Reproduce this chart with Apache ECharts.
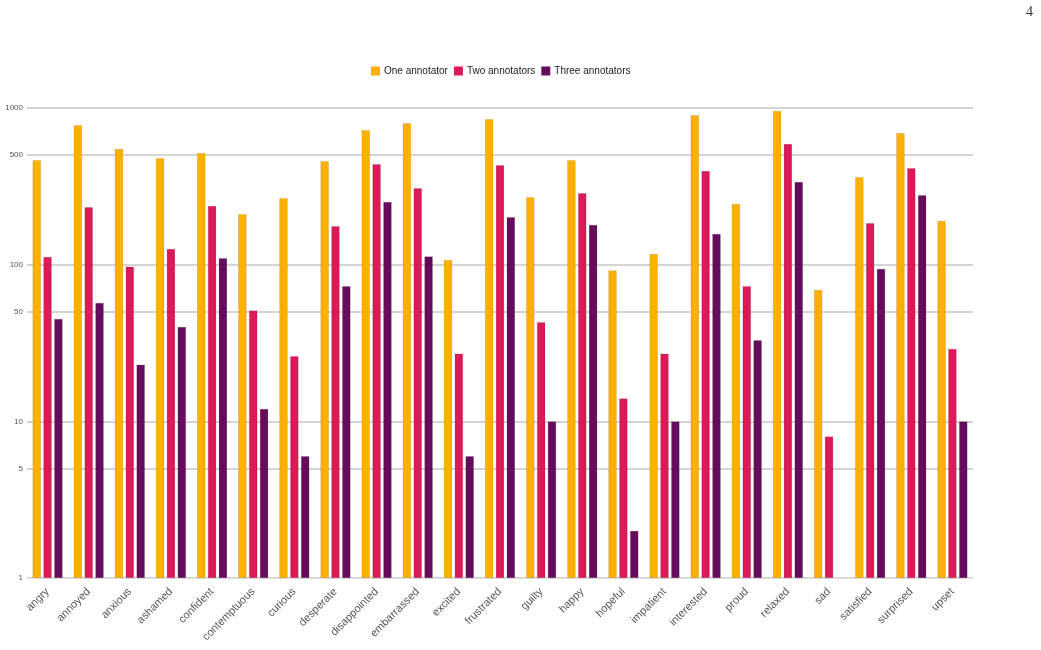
<!DOCTYPE html>
<html>
<head>
<meta charset="utf-8">
<script src="https://cdn.jsdelivr.net/npm/echarts@6/dist/echarts.min.js"></script>
<style>
  html, body { margin: 0; padding: 0; background: #fff; }
  #chart { width: 1041px; height: 650px; }
</style>
</head>
<body>
<div id="chart"></div>
<script>
var emotions = ["angry", "annoyed", "anxious", "ashamed", "confident", "contemptuous",
  "curious", "desperate", "disappointed", "embarrassed", "excited", "frustrated",
  "guilty", "happy", "hopeful", "impatient", "interested", "proud", "relaxed",
  "sad", "satisfied", "surprised", "upset"];
var oneAnnotator = [465, 778, 547, 479, 515, 210, 266, 458, 722, 801, 107, 849,
  270, 465, 92, 117, 901, 244, 956, 69, 362, 691, 190];
var twoAnnotators = [112, 233, 97, 126, 237, 51, 26, 176, 438, 308, 27, 432,
  43, 286, 14, 27, 396, 73, 589, 8, 184, 413, 29];
var threeAnnotators = [45, 57, 23, 40, 110, 12, 6, 73, 251, 113, 6, 201,
  10, 179, 2, 10, 157, 33, 337, null, 94, 278, 10];
var yTicks = [1, 5, 10, 50, 100, 500, 1000];

var chart = echarts.init(document.getElementById("chart"));
var font = "Liberation Sans";

function barSeries(name, data, color) {
  return {
    name: name,
    type: "bar",
    data: data,
    barGap: "30%",
    barCategoryGap: "27%",
    itemStyle: {
      color: color,
      borderColor: "rgba(0,0,0,0.18)",
      borderWidth: 0.6
    }
  };
}

var option = {
  animation: false,
  textStyle: { fontFamily: font },
  legend: {
    top: 61,
    left: 366,
    itemWidth: 9,
    itemHeight: 9,
    itemGap: 6,
    icon: "rect",
    itemStyle: { borderWidth: 0 },
    textStyle: { fontSize: 10, color: "#222", fontFamily: font, padding: [0, 0, 0, -1] }
  },
  grid: { left: 27, right: 68, top: 108, bottom: 72 },
  xAxis: {
    type: "category",
    data: emotions,
    axisLine: { lineStyle: { color: "#ddd", width: 1 } },
    axisTick: { show: false },
    axisLabel: { rotate: 45, fontSize: 11, color: "#555", margin: 12, interval: 0 }
  },
  yAxis: {
    type: "log",
    logBase: 10,
    min: 1,
    max: 1000,
    axisLine: { show: false },
    axisTick: { show: false, customValues: yTicks },
    axisLabel: {
      fontSize: 8, color: "#555", margin: 4, customValues: yTicks,
      formatter: function (v) { return String(Math.round(v)); }
    },
    splitLine: { show: true, lineStyle: { color: "#c6c6c6", width: 1.5 } }
  },
  graphic: [{
    type: "text",
    right: 8,
    top: 5,
    style: { text: "4", fontSize: 14, fill: "#333", fontFamily: "Liberation Serif" }
  }],
  series: [
    barSeries("One annotator", oneAnnotator, "#FFB000"),
    barSeries("Two annotators", twoAnnotators, "#DC1A57"),
    barSeries("Three annotators", threeAnnotators, "#650D5C")
  ]
};

chart.setOption(option);
</script>
</body>
</html>
